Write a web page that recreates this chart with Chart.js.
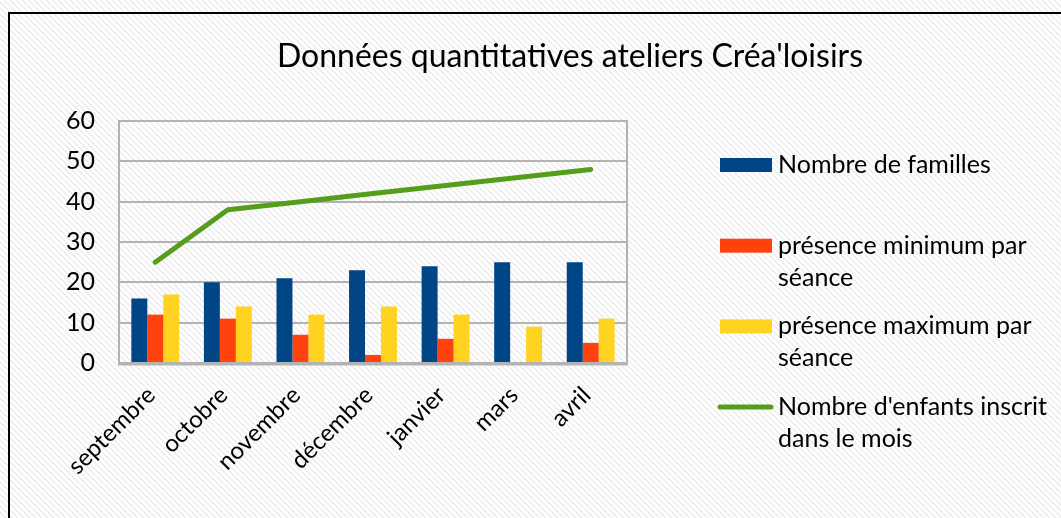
<!DOCTYPE html>
<html>
<head>
<meta charset="utf-8">
<script src="https://cdn.jsdelivr.net/npm/chart.js@4/dist/chart.umd.min.js"></script>
<style>
    html, body { margin: 0; padding: 0; background: #fff; }
    #wrap { width: 1061px; height: 518px; position: relative; }
</style>
</head>
<body>
<div id="wrap"><canvas id="ateliers"></canvas></div>
<script>
const chartTitle = "Données quantitatives ateliers Créa'loisirs";
const months = ["septembre", "octobre", "novembre", "décembre", "janvier", "mars", "avril"];
const seriesNames = [
    "Nombre de familles",
    "présence minimum par séance",
    "présence maximum par séance",
    "Nombre d'enfants inscrit dans le mois",
];
const familles = [16, 20, 21, 23, 24, 25, 25];
const presenceMin = [12, 11, 7, 2, 6, null, 5];
const presenceMax = [17, 14, 12, 14, 12, 9, 11];
const enfantsInscrits = [25, 38, 40, 42, 44, 46, 48];
const yTicks = [0, 10, 20, 30, 40, 50, 60];

const FONT = "Lato, 'Liberation Sans', sans-serif";
const colors = ["#004586", "#ff420e", "#ffd320", "#579d1c"];

// hatched background, outer frame, plot frame, title and legend
const decorPlugin = {
    id: "decor",
    beforeDraw(chart) {
        const ctx = chart.ctx;
        const w = chart.width, h = chart.height;
        ctx.save();
        ctx.fillStyle = "#ffffff";
        ctx.fillRect(0, 0, w, h);
        ctx.strokeStyle = "#ededed";
        ctx.lineWidth = 1.6;
        ctx.beginPath();
        for (let s = -h; s < w; s += 6) {
            ctx.moveTo(s, 0);
            ctx.lineTo(s + h, h);
        }
        ctx.stroke();
        // outer frame
        ctx.strokeStyle = "#000";
        ctx.lineWidth = 2;
        ctx.beginPath();
        ctx.moveTo(9, h + 2);
        ctx.lineTo(9, 13);
        ctx.lineTo(w + 2, 13);
        ctx.stroke();
        ctx.restore();
    },
    beforeDatasetsDraw(chart) {
        const a = chart.chartArea;
        const ctx = chart.ctx;
        ctx.save();
        ctx.strokeStyle = "#b3b3b3";
        ctx.lineWidth = 2;
        ctx.strokeRect(a.left, a.top, a.right - a.left, a.bottom - a.top);
        ctx.lineWidth = 3;
        ctx.beginPath();
        ctx.moveTo(a.left - 1, a.bottom + 1);
        ctx.lineTo(a.right + 1, a.bottom + 1);
        ctx.stroke();
        ctx.restore();
    },
    afterDraw(chart) {
        const ctx = chart.ctx;
        ctx.save();
        ctx.fillStyle = "#000";
        ctx.textBaseline = "middle";
        ctx.textAlign = "center";
        ctx.font = "32px " + FONT;
        ctx.fillText(chartTitle, 570, 57);

        ctx.textAlign = "left";
        ctx.font = "25px " + FONT;
        chart.data.datasets.forEach((ds, i) => {
            const y = 165 + i * 80.7;
            if (ds.type === "line") {
                ctx.strokeStyle = ds.borderColor;
                ctx.lineWidth = 5;
                ctx.lineCap = "round";
                ctx.beginPath();
                ctx.moveTo(720, y);
                ctx.lineTo(771, y);
                ctx.stroke();
            } else {
                ctx.fillStyle = ds.backgroundColor;
                ctx.fillRect(720, y - 7, 52, 14);
            }
            ctx.fillStyle = "#000";
            wrapText(ctx, ds.label, 290).forEach((line, j) => {
                ctx.fillText(line, 778, y + j * 32);
            });
        });
        ctx.restore();
    },
};

function wrapText(ctx, text, maxWidth) {
    const words = text.split(" ");
    const lines = [];
    let cur = "";
    words.forEach((w) => {
        const test = cur ? cur + " " + w : w;
        if (ctx.measureText(test).width > maxWidth && cur) {
            lines.push(cur);
            cur = w;
        } else {
            cur = test;
        }
    });
    if (cur) lines.push(cur);
    return lines;
}

const barData = [familles, presenceMin, presenceMax];

new Chart(document.getElementById("ateliers"), {
    data: {
        labels: months,
        datasets: [
            ...barData.map((values, i) => ({
                type: "bar",
                label: seriesNames[i],
                data: values,
                backgroundColor: colors[i],
                borderWidth: 0,
                categoryPercentage: 0.66,
                barPercentage: 1.0,
                order: 1,
            })),
            {
                type: "line",
                label: seriesNames[3],
                data: enfantsInscrits,
                borderColor: colors[3],
                backgroundColor: colors[3],
                borderWidth: 5,
                borderCapStyle: "round",
                borderJoinStyle: "round",
                pointRadius: 0,
                tension: 0,
                order: 0,
            },
        ],
    },
    options: {
        responsive: true,
        maintainAspectRatio: false,
        animation: false,
        layout: {
            padding: { left: 0, top: 121, right: 1061 - 627, bottom: 0 },
        },
        plugins: {
            legend: { display: false },
            title: { display: false },
            tooltip: { enabled: false },
        },
        scales: {
            x: {
                grid: { display: false, drawTicks: false },
                border: { display: false },
                ticks: {
                    color: "#000",
                    font: { family: FONT, size: 24 },
                    minRotation: 45,
                    maxRotation: 45,
                    padding: 18,
                    labelOffset: -4,
                },
                afterFit(scale) {
                    scale.height = 518 - 363;
                },
            },
            y: {
                min: 0,
                max: 60,
                grid: { color: "#b3b3b3", lineWidth: 2, drawTicks: false },
                border: { display: false },
                afterBuildTicks(scale) {
                    scale.ticks = yTicks.map((v) => ({ value: v }));
                },
                ticks: {
                    color: "#000",
                    font: { family: FONT, size: 25 },
                    padding: 24,
                },
                afterFit(scale) {
                    scale.width = 119;
                },
            },
        },
    },
    plugins: [decorPlugin],
});
</script>
</body>
</html>
